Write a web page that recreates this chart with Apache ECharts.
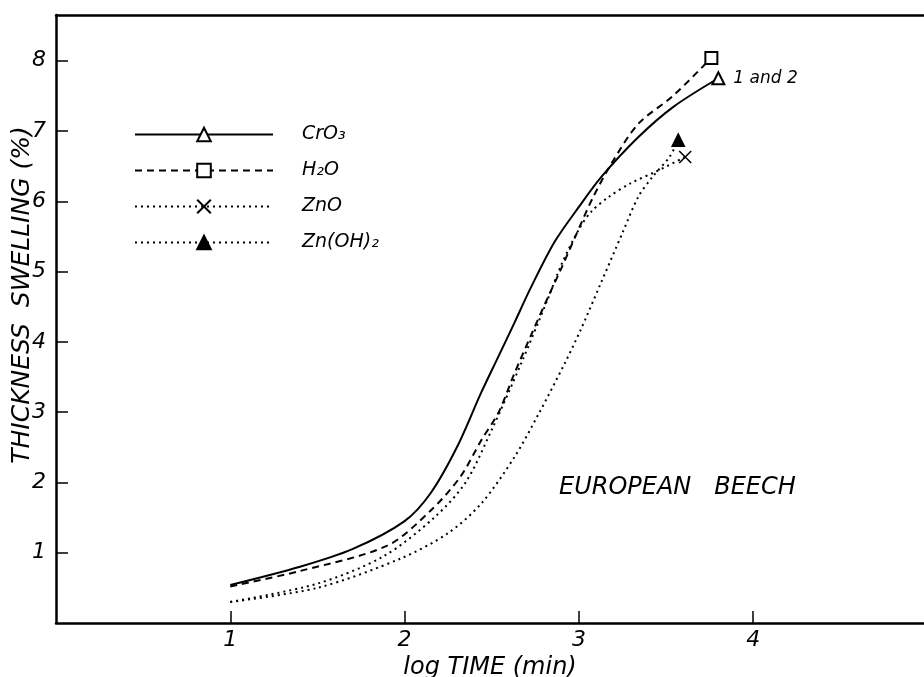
<!DOCTYPE html>
<html>
<head>
<meta charset="utf-8">
<script src="https://cdn.jsdelivr.net/npm/echarts@6/dist/echarts.min.js"></script>
<style>
  html, body { margin: 0; padding: 0; background: #fff; }
  #chart { width: 924px; height: 677px; }
</style>
</head>
<body>
<div id="chart"></div>
<script>
// axis ranges / ticks
var xMax = 4.98;
var yMax = 8.65;
var xTickValues = [1, 2, 3, 4];
var yTickValues = [1, 2, 3, 4, 5, 6, 7, 8];

var seriesNames = ['CrO₃', 'H₂O', 'ZnO', 'Zn(OH)₂'];

// log time (min) vs thickness swelling (%)
var cro3Time  = [1.0, 1.4, 1.7, 2.0, 2.15, 2.3, 2.44, 2.54, 2.63, 2.72, 2.86, 3.0, 3.13, 3.34, 3.54, 3.80];
var cro3Swell = [0.54, 0.8, 1.05, 1.45, 1.85, 2.5, 3.28, 3.8, 4.27, 4.75, 5.42, 5.92, 6.35, 6.91, 7.34, 7.75];

var h2oTime  = [1.0, 1.4, 1.9, 2.15, 2.32, 2.44, 2.54, 2.63, 2.73, 2.82, 2.9, 2.98, 3.08, 3.19, 3.34, 3.54, 3.76];
var h2oSwell = [0.52, 0.74, 1.1, 1.6, 2.08, 2.6, 3.0, 3.55, 4.12, 4.62, 5.05, 5.5, 6.05, 6.55, 7.1, 7.5, 8.04];

var znoTime  = [1.0, 1.5, 1.88, 2.17, 2.35, 2.5, 2.67, 2.82, 2.9, 3.0, 3.07, 3.17, 3.3, 3.44, 3.61];
var znoSwell = [0.3, 0.56, 0.95, 1.5, 2.0, 2.75, 3.7, 4.6, 5.1, 5.6, 5.85, 6.06, 6.26, 6.42, 6.63];

var znohTime  = [1.0, 1.5, 1.98, 2.25, 2.44, 2.63, 2.77, 2.92, 3.01, 3.12, 3.25, 3.34, 3.42, 3.52, 3.57];
var znohSwell = [0.3, 0.5, 0.92, 1.28, 1.7, 2.36, 2.98, 3.7, 4.17, 4.8, 5.55, 6.06, 6.34, 6.63, 6.87];

var endNote = '1 and 2';

var fontFam = '"DejaVu Sans", sans-serif';

// only the last point of each curve gets its marker
function toPoints(xs, ys, note) {
  return xs.map(function (x, i) {
    var item = { value: [x, ys[i]] };
    if (i < xs.length - 1) {
      item.symbol = 'none';
    } else if (note) {
      item.label = {
        show: true, position: 'right', distance: 8, formatter: note,
        color: '#000', fontSize: 17, fontStyle: 'italic', fontFamily: fontFam
      };
    }
    return item;
  });
}

function curve(name, xs, ys, symbol, lineType, note) {
  return {
    name: name,
    type: 'line',
    smooth: 0.3,
    symbol: symbol,
    symbolSize: 12,
    showSymbol: true,
    showAllSymbol: true,
    silent: true,
    lineStyle: { color: '#000', width: 2, type: lineType },
    itemStyle: { color: '#000', borderColor: '#000', borderWidth: 1.6 },
    data: toPoints(xs, ys, note)
  };
}

var chart = echarts.init(document.getElementById('chart'));

var textBase = { color: '#000', fontStyle: 'italic', fontFamily: fontFam };

chart.setOption({
  animation: false,
  backgroundColor: '#fff',
  grid: { left: 56, right: 0, top: 15, bottom: 54, outerBoundsMode: 'none' },
  title: {
    text: 'EUROPEAN   BEECH',
    left: 554, top: 471,
    textStyle: Object.assign({ fontSize: 24, fontWeight: 'normal' }, textBase)
  },
  legend: {
    orient: 'vertical',
    left: 129, top: 120,
    itemWidth: 138, itemHeight: 17, itemGap: 17,
    selectedMode: false,
    data: seriesNames,
    textStyle: Object.assign({ fontSize: 19, padding: [0, 0, 0, 24] }, textBase)
  },
  xAxis: [{
    type: 'value', min: 0, max: xMax, position: 'bottom',
    axisLine: { onZero: false, lineStyle: { color: '#000', width: 2.5 } },
    axisTick: { inside: true, length: 12, customValues: xTickValues, lineStyle: { color: '#000', width: 1.5 } },
    axisLabel: Object.assign({ customValues: xTickValues, fontSize: 22, margin: 6 }, textBase),
    splitLine: { show: false },
    name: 'log TIME (min)', nameLocation: 'middle', nameGap: 20,
    nameTextStyle: Object.assign({ fontSize: 24 }, textBase)
  }, {
    type: 'value', min: 0, max: xMax, position: 'top',
    axisLine: { onZero: false, lineStyle: { color: '#000', width: 2.5 } },
    axisTick: { show: false }, axisLabel: { show: false }, splitLine: { show: false }
  }],
  yAxis: {
    type: 'value', min: 0, max: yMax,
    axisLine: { onZero: false, lineStyle: { color: '#000', width: 2.5 } },
    axisTick: { inside: true, length: 12, customValues: yTickValues, lineStyle: { color: '#000', width: 1.5 } },
    axisLabel: Object.assign({ customValues: yTickValues, fontSize: 22, margin: 10 }, textBase),
    splitLine: { show: false }
  },
  graphic: [{
    type: 'text',
    x: 22, y: 295,
    rotation: Math.PI / 2,
    style: {
      text: 'THICKNESS  SWELLING (%)',
      fill: '#000', fontSize: 25, fontStyle: 'italic', fontFamily: fontFam,
      align: 'center', verticalAlign: 'middle'
    }
  }],
  series: [
    curve(seriesNames[0], cro3Time, cro3Swell, 'emptyTriangle', 'solid', endNote),
    curve(seriesNames[1], h2oTime, h2oSwell, 'emptyRect', [7, 5]),
    curve(seriesNames[2], znoTime, znoSwell, 'path://M0,0L10,10M0,10L10,0', [2, 4]),
    curve(seriesNames[3], znohTime, znohSwell, 'triangle', [2, 4])
  ]
});
</script>
</body>
</html>
